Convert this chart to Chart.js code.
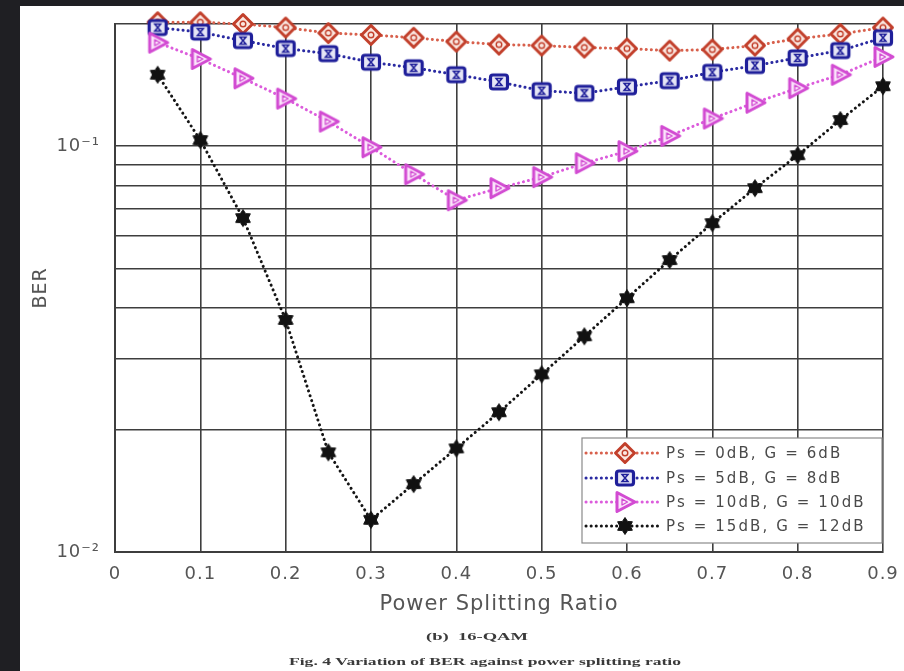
<!DOCTYPE html>
<html>
<head>
<meta charset="utf-8">
<script src="https://cdn.jsdelivr.net/npm/chart.js@4.4.1/dist/chart.umd.min.js"></script>
<style>
  html, body { margin: 0; padding: 0; width: 904px; height: 671px; overflow: hidden; background: #1f1f23; }
  #figure { position: absolute; left: 20px; top: 6px; width: 884px; height: 665px; background: #ffffff; }
  canvas { display: block; }
</style>
</head>
<body>
<div id="figure"><canvas id="berChart" width="884" height="665"></canvas></div>
<script>
// Power splitting ratio (x) and BER for each source-power / gain setting
const ratios = [0.05, 0.10, 0.15, 0.20, 0.25, 0.30, 0.35, 0.40, 0.45, 0.50, 0.55, 0.60, 0.65, 0.70, 0.75, 0.80, 0.85, 0.90];
const berPs0G6   = [0.202, 0.202, 0.200, 0.196, 0.190, 0.188, 0.185, 0.181, 0.178, 0.177, 0.175, 0.174, 0.172, 0.173, 0.177, 0.184, 0.189, 0.196];
const berPs5G8   = [0.196, 0.191, 0.182, 0.174, 0.169, 0.161, 0.156, 0.150, 0.144, 0.137, 0.135, 0.140, 0.145, 0.152, 0.158, 0.165, 0.172, 0.185];
const berPs10G10 = [0.180, 0.164, 0.147, 0.131, 0.115, 0.0994, 0.0853, 0.0736, 0.0788, 0.0839, 0.0908, 0.0972, 0.106, 0.117, 0.128, 0.139, 0.150, 0.166];
const berPs15G12 = [0.150, 0.1035, 0.0665, 0.0373, 0.0176, 0.0120, 0.0147, 0.0180, 0.0221, 0.0274, 0.0340, 0.0422, 0.0524, 0.0646, 0.0788, 0.0950, 0.116, 0.1405];
const seriesLabels = ['Ps = 0dB, G = 6dB', 'Ps = 5dB, G = 8dB', 'Ps = 10dB, G = 10dB', 'Ps = 15dB, G = 12dB'];

// Axis ticks
const xTickValues = [0, 0.1, 0.2, 0.3, 0.4, 0.5, 0.6, 0.7, 0.8, 0.9];
const xTickLabels = ['0', '0.1', '0.2', '0.3', '0.4', '0.5', '0.6', '0.7', '0.8', '0.9'];
const yTickValues = [0.01, 0.02, 0.03, 0.04, 0.05, 0.06, 0.07, 0.08, 0.09, 0.1, 0.2];
const yTickLabels = { '0.01': '10\u207B\u00B2', '0.1': '10\u207B\u00B9' };

const xTitle = 'Power Splitting Ratio';
const yTitle = 'BER';
const subCaption = '(b)  16-QAM';
const figCaption = 'Fig. 4 Variation of BER against power splitting ratio';

// ---- marker images ----
function makeMarker(w, h, draw) {
  const c = document.createElement('canvas');
  c.width = w; c.height = h;
  draw(c.getContext('2d'), w / 2, h / 2);
  return c;
}
const diamondMarker = makeMarker(24, 24, (g, cx, cy) => {
  g.beginPath();
  g.moveTo(cx, cy - 9.5); g.lineTo(cx + 9.5, cy); g.lineTo(cx, cy + 9.5); g.lineTo(cx - 9.5, cy); g.closePath();
  g.fillStyle = '#fbe8e2'; g.fill();
  g.strokeStyle = '#c23f2b'; g.lineWidth = 3; g.lineJoin = 'round'; g.stroke();
  g.beginPath(); g.arc(cx, cy, 2.8, 0, Math.PI * 2);
  g.lineWidth = 1.4; g.stroke();
});
const squareMarker = makeMarker(24, 22, (g, cx, cy) => {
  const w = 17, h = 14, r = 2.5, x = cx - w / 2, y = cy - h / 2;
  g.beginPath();
  g.moveTo(x + r, y); g.lineTo(x + w - r, y); g.quadraticCurveTo(x + w, y, x + w, y + r);
  g.lineTo(x + w, y + h - r); g.quadraticCurveTo(x + w, y + h, x + w - r, y + h);
  g.lineTo(x + r, y + h); g.quadraticCurveTo(x, y + h, x, y + h - r);
  g.lineTo(x, y + r); g.quadraticCurveTo(x, y, x + r, y); g.closePath();
  g.fillStyle = '#e6e6f6'; g.fill();
  g.strokeStyle = '#1f1f9a'; g.lineWidth = 3.2; g.stroke();
  // hourglass inside the square
  g.beginPath();
  g.moveTo(cx - 3, cy - 3.5); g.lineTo(cx + 3, cy - 3.5); g.lineTo(cx - 3, cy + 3.5); g.lineTo(cx + 3, cy + 3.5); g.closePath();
  g.lineWidth = 1.5; g.stroke();
});
const triangleMarker = makeMarker(26, 24, (g, cx, cy) => {
  g.beginPath();
  g.moveTo(cx - 8, cy - 9.5); g.lineTo(cx + 10, cy); g.lineTo(cx - 8, cy + 9.5); g.closePath();
  g.fillStyle = '#fbe4fb'; g.fill();
  g.strokeStyle = '#d24bd2'; g.lineWidth = 3; g.lineJoin = 'round'; g.stroke();
  g.beginPath();
  g.moveTo(cx - 3, cy - 3); g.lineTo(cx + 2.5, cy); g.lineTo(cx - 3, cy + 3); g.closePath();
  g.lineWidth = 1.3; g.stroke();
});
const starMarker = makeMarker(22, 22, (g, cx, cy) => {
  g.beginPath();
  for (let i = 0; i < 12; i++) {
    const a = -Math.PI / 2 + i * Math.PI / 6;
    const rad = i % 2 === 0 ? 8.5 : 5.2;
    const px = cx + rad * Math.cos(a), py = cy + rad * Math.sin(a);
    if (i === 0) g.moveTo(px, py); else g.lineTo(px, py);
  }
  g.closePath();
  g.fillStyle = '#111111'; g.fill();
  g.strokeStyle = '#111111'; g.lineWidth = 1; g.stroke();
});

const seriesStyles = [
  { line: '#d8604c', marker: diamondMarker },
  { line: '#2a2aa2', marker: squareMarker },
  { line: '#dc5cdc', marker: triangleMarker },
  { line: '#151515', marker: starMarker }
];
const seriesValues = [berPs0G6, berPs5G8, berPs10G10, berPs15G12];

const datasets = seriesValues.map((vals, i) => ({
  label: seriesLabels[i],
  data: ratios.map((x, j) => ({ x: x, y: vals[j] })),
  borderColor: seriesStyles[i].line,
  backgroundColor: seriesStyles[i].line,
  borderWidth: 3,
  borderDash: [0.1, 5],
  borderCapStyle: 'round',
  pointStyle: seriesStyles[i].marker,
  pointRadius: 9,
  pointHoverRadius: 9,
  tension: 0,
  fill: false,
  clip: false,
  order: 4 - i
}));

const GRID = '#3e3e3e';
const TEXT = '#555555';

// wider glyph spacing for all canvas text
const spacingPlugin = {
  id: 'spacing',
  beforeDraw(chart) { chart.ctx.letterSpacing = '1px'; }
};

// legend box placed inside the lower-right of the plot area
const insideLegend = {
  id: 'insideLegend',
  afterDraw(chart) {
    const { ctx, chartArea } = chart;
    const right = chartArea.right - 1, left = right - 300;
    const bottom = chartArea.bottom - 9, top = bottom - 105;
    ctx.save();
    ctx.fillStyle = '#ffffff';
    ctx.fillRect(left, top, right - left, bottom - top);
    ctx.strokeStyle = '#8a8a8a'; ctx.lineWidth = 1.2;
    ctx.strokeRect(left, top, right - left, bottom - top);
    const rowY = [15, 40, 64, 88];
    chart.data.datasets.forEach((ds, i) => {
      const y = top + rowY[i];
      ctx.save();
      ctx.strokeStyle = ds.borderColor; ctx.lineWidth = 3;
      ctx.setLineDash([0.1, 5]); ctx.lineCap = 'round';
      ctx.beginPath(); ctx.moveTo(left + 4, y); ctx.lineTo(left + 80, y); ctx.stroke();
      ctx.restore();
      const m = ds.pointStyle;
      ctx.drawImage(m, left + 43 - m.width / 2, y - m.height / 2);
      ctx.fillStyle = '#4a4a4a';
      ctx.font = '15px "DejaVu Sans"';
      ctx.letterSpacing = '2.1px';
      ctx.textAlign = 'left'; ctx.textBaseline = 'middle';
      ctx.fillText(ds.label, left + 84, y + 1);
    });
    ctx.restore();
  }
};

// sub-caption and figure caption under the axes
const captions = {
  id: 'captions',
  afterDraw(chart) {
    const { ctx } = chart;
    ctx.save();
    ctx.letterSpacing = '0px';
    ctx.fillStyle = '#3a3a3a';
    ctx.textAlign = 'center'; ctx.textBaseline = 'middle';
    ctx.font = 'bold 11px "Liberation Serif"';
    let w = ctx.measureText(subCaption).width;
    ctx.save(); ctx.translate(457, 631); ctx.scale(102 / w, 1); ctx.fillText(subCaption, 0, 0); ctx.restore();
    ctx.font = 'bold 10px "Liberation Serif"';
    w = ctx.measureText(figCaption).width;
    ctx.save(); ctx.translate(465, 656); ctx.scale(392 / w, 1); ctx.fillText(figCaption, 0, 0); ctx.restore();
    ctx.restore();
  }
};

new Chart(document.getElementById('berChart'), {
  type: 'line',
  data: { datasets: datasets },
  options: {
    responsive: false,
    animation: false,
    devicePixelRatio: 1,
    layout: { padding: { top: 18, right: 21, left: 0, bottom: 0 } },
    plugins: { legend: { display: false }, tooltip: { enabled: false } },
    scales: {
      x: {
        type: 'linear',
        min: 0, max: 0.9,
        afterBuildTicks(scale) { scale.ticks = xTickValues.map(v => ({ value: v })); },
        afterFit(scale) {
          scale.height = 119;
          scale.paddingLeft = 0; scale.paddingRight = 0;
        },
        ticks: {
          autoSkip: false, maxRotation: 0, padding: 12,
          color: TEXT, font: { family: 'DejaVu Sans', size: 18 },
          callback(value, index) { return xTickLabels[index]; }
        },
        grid: { color: GRID, lineWidth: 1.6, drawTicks: false },
        border: { display: true, color: GRID, width: 2 },
        title: {
          display: true, text: xTitle, color: TEXT,
          font: { family: 'DejaVu Sans', size: 21 },
          padding: { top: 0, bottom: 54 }
        }
      },
      y: {
        type: 'logarithmic',
        min: 0.01, max: 0.2,
        afterBuildTicks(scale) { scale.ticks = yTickValues.map(v => ({ value: v })); },
        afterFit(scale) {
          scale.width = 95;
          scale.paddingTop = 0; scale.paddingBottom = 0;
        },
        ticks: {
          autoSkip: false, padding: 15,
          color: TEXT, font: { family: 'DejaVu Sans', size: 18 },
          callback(value) { return yTickLabels[String(value)] || ''; }
        },
        grid: { color: GRID, lineWidth: 1.6, drawTicks: false },
        border: { display: true, color: GRID, width: 2 },
        title: {
          display: true, text: yTitle, color: TEXT,
          font: { family: 'DejaVu Sans', size: 19 },
          padding: { top: 10, bottom: 0 }
        }
      }
    }
  },
  plugins: [spacingPlugin, insideLegend, captions]
});
</script>
</body>
</html>
